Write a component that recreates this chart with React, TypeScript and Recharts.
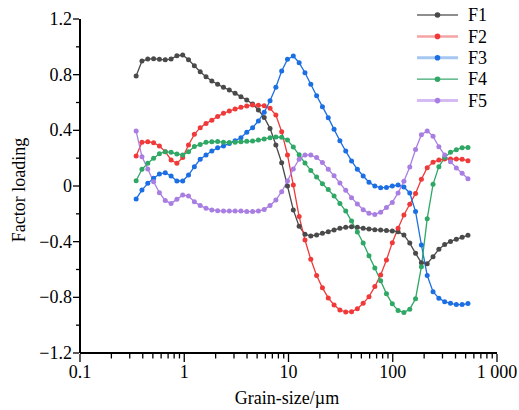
import React from 'react';
import { LineChart, Line, XAxis, YAxis, Legend } from 'recharts';

const FONT = '"Liberation Serif", "Times New Roman", Times, serif';
const TEXT_STYLE = { fontFamily: FONT, fontSize: 18 };

// Grain-size classes (µm)
const SIZES = [
  0.3455, 0.3929, 0.4468, 0.5082, 0.5779, 0.6573, 0.7475, 0.8501, 0.9665, 1.099,
  1.25, 1.422, 1.617, 1.839, 2.091, 2.378, 2.704, 3.075, 3.497, 3.977,
  4.523, 5.143, 5.848, 6.651, 7.563, 8.601, 9.779, 11.12, 12.65, 14.39,
  16.36, 18.61, 21.16, 24.06, 27.36, 31.12, 35.39, 40.24, 45.77, 52.04,
  59.18, 67.3, 76.54, 87.04, 98.97, 112.5, 128, 145.6, 165.5, 188.3,
  214.1, 243.5, 276.9, 314.8, 358, 407.2, 463, 526.6,
];

const F1 = [
  0.79, 0.898, 0.912, 0.915, 0.91, 0.907, 0.912, 0.936, 0.941, 0.907, 0.864, 0.821, 0.785, 0.754, 0.731,
  0.709, 0.69, 0.666, 0.642, 0.618,
  0.589, 0.546, 0.493, 0.414, 0.295, 0.167, 0.0,
  -0.172, -0.29, -0.347, -0.359, -0.352, -0.34, -0.328, -0.316, -0.304, -0.297, -0.292,
  -0.297, -0.304, -0.309, -0.314, -0.316, -0.32, -0.323, -0.328,
  -0.352, -0.41, -0.484, -0.552, -0.558, -0.508, -0.454, -0.421, -0.398, -0.382, -0.369, -0.353,
];

const F2 = [
  0.216, 0.314, 0.318, 0.311, 0.287, 0.247, 0.187, 0.163, 0.204, 0.295, 0.371, 0.419, 0.45, 0.472, 0.5,
  0.522, 0.539, 0.553, 0.565, 0.575, 0.582, 0.58, 0.577, 0.558, 0.51, 0.39, 0.223,
  0.007, -0.22, -0.388, -0.527, -0.643, -0.732, -0.804, -0.855, -0.891, -0.905, -0.903, -0.882, -0.843, -0.795, -0.723, -0.639, -0.532,
  -0.407, -0.304, -0.208, -0.131, -0.053, 0.048, 0.132, 0.17, 0.187, 0.194, 0.194, 0.194, 0.192, 0.182,
];

const F3 = [
  -0.093, -0.029, 0.019, 0.055, 0.086, 0.096, 0.072, 0.036, 0.036, 0.079, 0.139, 0.192, 0.223, 0.251, 0.275,
  0.287, 0.306, 0.326, 0.347, 0.386, 0.419, 0.467,
  0.53, 0.613, 0.709, 0.826, 0.91, 0.934, 0.886, 0.814, 0.731, 0.649, 0.57, 0.491, 0.407, 0.325, 0.251, 0.18, 0.12, 0.072, 0.027, 0.0, -0.012, -0.01, 0.0, 0.007, -0.008,
  -0.05, -0.184, -0.424, -0.643, -0.759, -0.807, -0.831, -0.843, -0.852, -0.852, -0.845,
];

const F4 = [
  0.038, 0.12, 0.163, 0.199, 0.232, 0.247, 0.242, 0.23, 0.223, 0.247, 0.283, 0.299, 0.314, 0.318, 0.32,
  0.314, 0.313, 0.314, 0.318, 0.321, 0.323, 0.33, 0.338, 0.347, 0.352,
  0.35, 0.33, 0.28, 0.224, 0.165, 0.112, 0.064, 0.016, -0.026, -0.072, -0.125,
  -0.18, -0.252, -0.33, -0.41, -0.502, -0.589, -0.681, -0.775, -0.847, -0.894, -0.909, -0.885, -0.81, -0.58, -0.235, 0.012, 0.139, 0.204, 0.242, 0.261, 0.275, 0.277,
];

const F5 = [
  0.395, 0.211, 0.122, 0.031, -0.048, -0.105, -0.125, -0.096, -0.065, -0.072, -0.113, -0.141, -0.16, -0.172, -0.177,
  -0.18, -0.18, -0.18, -0.18, -0.184, -0.184, -0.18, -0.168, -0.141, -0.101, -0.041, 0.036, 0.122, 0.192,
  0.223, 0.222, 0.205, 0.168, 0.121, 0.073, 0.021, -0.031, -0.084, -0.13, -0.17, -0.196, -0.204, -0.188, -0.155,
  -0.118, -0.05, 0.034, 0.136, 0.262, 0.368, 0.396, 0.357, 0.282, 0.223, 0.175, 0.13, 0.091, 0.052,
];

const SERIES_NAMES = ['F1', 'F2', 'F3', 'F4', 'F5'];
const SERIES_VALUES = [F1, F2, F3, F4, F5];

const X_TICKS = [
  0.1, 0.2, 0.3, 0.4, 0.5, 0.6, 0.7, 0.8, 0.9,
  1, 2, 3, 4, 5, 6, 7, 8, 9,
  10, 20, 30, 40, 50, 60, 70, 80, 90,
  100, 200, 300, 400, 500, 600, 700, 800, 900,
  1000,
];
const X_MAJOR = [0.1, 1, 10, 100, 1000];
const X_MAJOR_LABELS = ['0.1', '1', '10', '100', '1 000'];

const Y_TICKS = [-1.2, -1.0, -0.8, -0.6, -0.4, -0.2, 0, 0.2, 0.4, 0.6, 0.8, 1.0, 1.2];
const Y_TICK_LABELS = ['\u22121.2', '', '\u22120.8', '', '\u22120.4', '', '0', '', '0.4', '', '0.8', '', '1.2'];

const STYLES = [
  { color: '#4a4a4a', legendLine: '#8e8e8e', legendWidth: 2 },
  { color: '#f03a3a', legendLine: '#f5a3a3', legendWidth: 2.5 },
  { color: '#1c6fe3', legendLine: '#a6c7f2', legendWidth: 3 },
  { color: '#2fa866', legendLine: '#3aa96c', legendWidth: 1.3 },
  { color: '#a97ee2', legendLine: '#d4bbf3', legendWidth: 3 },
];

const data = SIZES.map((s, i) => {
  const row: Record<string, number> = { size: s };
  SERIES_NAMES.forEach((n, j) => {
    row[n] = SERIES_VALUES[j][i];
  });
  return row;
});

const XTick = (props: any) => {
  const { x, y, payload } = props;
  const v = payload.value;
  const idx = X_MAJOR.findIndex((m) => Math.abs(m - v) < 1e-6 * m);
  const major = idx >= 0;
  return (
    <g>
      <line x1={x} x2={x} y1={y + 1} y2={y + (major ? 9 : 5.5)} stroke="#000" strokeWidth={1.3} />
      {major && (
        <text x={x} y={y + 25} textAnchor="middle" style={TEXT_STYLE} fill="#000">
          {X_MAJOR_LABELS[idx]}
        </text>
      )}
    </g>
  );
};

const YTick = (props: any) => {
  const { x, y, payload } = props;
  const v = payload.value;
  const idx = Y_TICKS.findIndex((t) => Math.abs(t - v) < 1e-6);
  const label = idx >= 0 ? Y_TICK_LABELS[idx] : '';
  const major = label !== '';
  return (
    <g>
      <line x1={x - (major ? 7 : 4)} x2={x - 1} y1={y} y2={y} stroke="#000" strokeWidth={1.3} />
      {major && (
        <text x={x - 8} y={y} dy="0.34em" textAnchor="end" style={TEXT_STYLE} fill="#000">
          {label}
        </text>
      )}
    </g>
  );
};

const LegendContent = () => (
  <svg width={519} height={115} style={{ display: 'block' }}>
    {SERIES_NAMES.map((n, i) => {
      const cy = 15 + i * 21.4;
      const st = STYLES[i];
      return (
        <g key={n}>
          <line x1={417} x2={458} y1={cy} y2={cy} stroke={st.legendLine} strokeWidth={st.legendWidth} />
          <circle cx={437.5} cy={cy} r={2.8} fill={st.color} />
          <text x={468} y={cy + 6.2} style={TEXT_STYLE} fill="#000">
            {n}
          </text>
        </g>
      );
    })}
  </svg>
);

const YLabel = () => (
  <text
    x={19}
    y={190}
    transform="rotate(-90 19 190)"
    textAnchor="middle"
    dy="0.34em"
    style={TEXT_STYLE}
    fill="#000"
  >
    Factor loading
  </text>
);

const XLabel = () => (
  <text x={287} y={404} textAnchor="middle" style={TEXT_STYLE} fill="#000">
    Grain-size/µm
  </text>
);

export default function App() {
  return (
    <div style={{ position: 'absolute', left: 0, top: 0, width: 519, height: 410, background: '#fff' }}>
      <LineChart width={519} height={410} data={data} margin={{ top: 19, right: 22, bottom: 27, left: 0 }}>
        <XAxis
          dataKey="size"
          type="number"
          scale="log"
          domain={[0.1, 1000]}
          ticks={X_TICKS}
          interval={0}
          tick={<XTick />}
          tickLine={false}
          tickSize={0}
          tickMargin={0}
          axisLine={{ stroke: '#000', strokeWidth: 2 }}
          height={30}
          label={<XLabel />}
        />
        <YAxis
          type="number"
          domain={[-1.2, 1.2]}
          ticks={Y_TICKS}
          interval={0}
          tick={<YTick />}
          tickLine={false}
          tickSize={0}
          tickMargin={0}
          axisLine={{ stroke: '#000', strokeWidth: 2 }}
          width={80}
          label={<YLabel />}
        />
        <Legend
          layout="horizontal"
          verticalAlign="middle"
          align="center"
          wrapperStyle={{ position: 'absolute', left: 0, top: 0, width: 519, height: 115 }}
          content={<LegendContent />}
        />
        {SERIES_NAMES.map((n, i) => (
          <Line
            key={n}
            dataKey={n}
            name={n}
            type="linear"
            stroke={STYLES[i].color}
            strokeWidth={1.3}
            dot={{ r: 2.5, fill: STYLES[i].color, stroke: STYLES[i].color, strokeWidth: 0 }}
            activeDot={false}
            isAnimationActive={false}
          />
        ))}
      </LineChart>
    </div>
  );
}
